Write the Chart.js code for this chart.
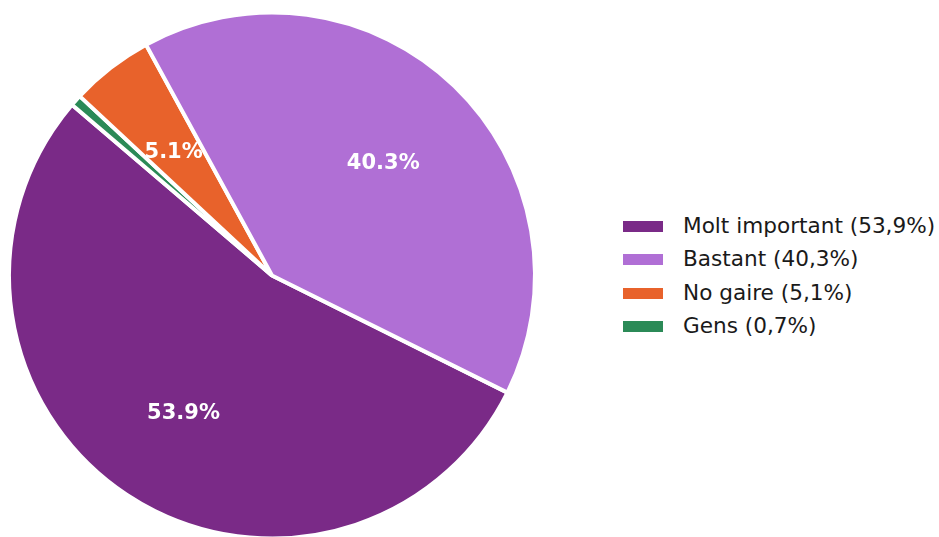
<!DOCTYPE html>
<html lang="ca">
<head>
    <meta charset="UTF-8">
    <title>Importància</title>
    <script src="https://cdn.jsdelivr.net/npm/chart.js"></script>
    <style>
        html, body { margin: 0; padding: 0; background: #fff; overflow: hidden; }
        #page { position: relative; width: 939px; height: 537px; overflow: hidden; }
        #pieBox { position: absolute; left: 0; top: 0; width: 544px; height: 551px; }
        #legend { position: absolute; left: 623px; top: 210px; font-family: "DejaVu Sans", sans-serif; font-size: 21.6px; color: #1a1a1a; }
        .item { position: relative; height: 33.3px; }
        .swatch { position: absolute; left: 0; top: 11px; width: 40px; height: 11px; }
        .text { position: absolute; left: 60px; top: 2px; white-space: nowrap; line-height: 28px; }
    </style>
</head>
<body>
    <div id="page">
        <div id="pieBox"><canvas id="pieChart"></canvas></div>
        <div id="legend"></div>
    </div>

    <script>
        // data (legend order)
        const categories = ['Molt important', 'Bastant', 'No gaire', 'Gens'];
        const values = [53.9, 40.3, 5.1, 0.7];
        const colors = ['#7a2a87', '#b06fd5', '#e8622b', '#2b8a57'];
        // clockwise order of the slices in the picture
        const drawOrder = [0, 3, 2, 1];

        // legend
        const legend = document.getElementById('legend');
        categories.forEach((name, i) => {
            const row = document.createElement('div');
            row.className = 'item';
            row.innerHTML = '<span class="swatch" style="background:' + colors[i] + '"></span>' +
                '<span class="text">' + name + ' (' + values[i].toFixed(1).replace('.', ',') + '%)</span>';
            legend.appendChild(row);
        });

        // percentage labels inside the slices
        const pctLabels = {
            id: 'pctLabels',
            afterDatasetsDraw(chart) {
                const ctx = chart.ctx;
                const meta = chart.getDatasetMeta(0);
                const data = chart.data.datasets[0].data;
                ctx.save();
                ctx.fillStyle = '#ffffff';
                ctx.font = 'bold 21px "DejaVu Sans"';
                ctx.textAlign = 'center';
                ctx.textBaseline = 'middle';
                meta.data.forEach((arc, i) => {
                    if (data[i] < 1) return;
                    const p = arc.getProps(['x', 'y', 'startAngle', 'endAngle', 'outerRadius'], true);
                    const mid = (p.startAngle + p.endAngle) / 2;
                    const r = p.outerRadius * 0.61;
                    ctx.fillText(data[i].toFixed(1) + '%', p.x + Math.cos(mid) * r, p.y + Math.sin(mid) * r + 4);
                });
                ctx.restore();
            }
        };

        const ctx = document.getElementById('pieChart').getContext('2d');
        new Chart(ctx, {
            type: 'pie',
            data: {
                labels: drawOrder.map(i => categories[i]),
                datasets: [{
                    data: drawOrder.map(i => values[i]),
                    backgroundColor: drawOrder.map(i => colors[i]),
                    borderColor: '#ffffff',
                    borderWidth: 4,
                    hoverOffset: 0
                }]
            },
            options: {
                responsive: true,
                maintainAspectRatio: false,
                animation: false,
                rotation: 116.45,
                radius: 263,
                layout: { padding: 0 },
                plugins: {
                    legend: { display: false },
                    tooltip: { enabled: false }
                }
            },
            plugins: [pctLabels]
        });
    </script>
</body>
</html>
